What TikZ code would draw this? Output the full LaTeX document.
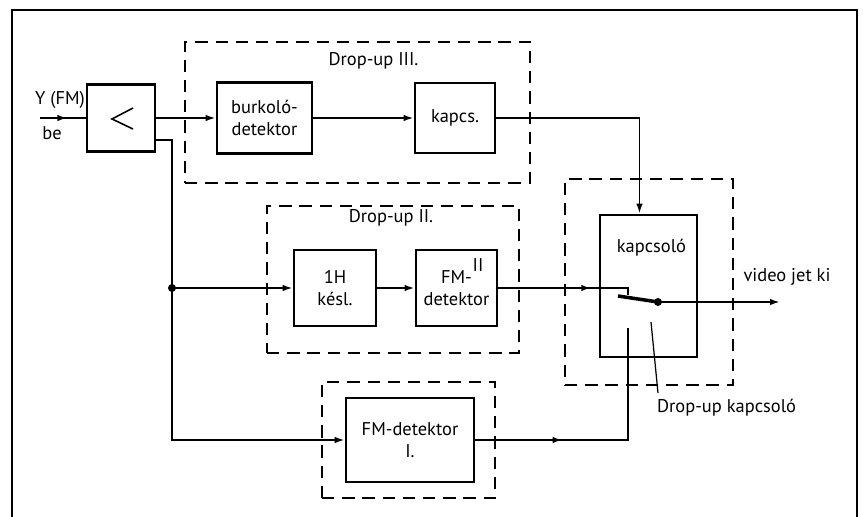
\documentclass[tikz,border=0pt]{standalone}
\usepackage{fontspec}
\setmainfont{PT Sans}
\usetikzlibrary{arrows.meta, positioning, calc, decorations.markings}

\tikzset{
  blk/.style={draw, line width=1.5pt, align=center, inner sep=0pt},
  grp/.style={draw, line width=1.1pt, dash pattern=on 7pt off 4.5pt},
  wire/.style={line width=1.1pt},
  tip/.style={-{Latex[length=0.2cm,width=0.13cm]}},
  midtip/.style={decoration={markings,
      mark=at position #1 with {\arrow{Latex[length=0.2cm,width=0.13cm]}}},
    postaction={decorate}},
  lbl/.style={inner sep=1pt},
}

\begin{document}
\begin{tikzpicture}[x=0.02cm, y=-0.02cm, font=\fontsize{10.5}{12.5}\selectfont]
  \useasboundingbox (0,0) rectangle (863,517);
  % frame, open at the bottom
  \draw[line width=0.85pt] (12,517) -- (12,10) -- (857,10) -- (857,517);

  % drop-up groups
  \node[grp, minimum width=6.9cm, minimum height=2.82cm] (d3) at (357.5,112.5) {};
  \node[grp, minimum width=3.36cm, minimum height=4.12cm] (dk) at (649,282) {};
  \node[grp, minimum width=5.04cm, minimum height=2.94cm] (d2) at (393,279.5) {};
  \node[grp, minimum width=3.46cm, minimum height=2.32cm] (d1) at (408.5,440) {};
  \node[lbl] (d3lbl) at ($(d3.north)+(16,20)$) {Drop-up III.};
  \node[lbl] (d2lbl) at ($(d2.north)+(-2,13)$) {Drop-up II.};

  % blocks
  \node[blk, minimum width=1.36cm, minimum height=1.34cm] (amp) at (121,118) {};
  \draw[line width=0.9pt] ($(amp)+(12,-10)$) -- ++(-21,11) -- ++(21,10);
  \node[blk, minimum width=1.9cm, minimum height=1.42cm] (burk) at (264.5,118) {burkoló-\\detektor};
  \node[blk, minimum width=1.6cm, minimum height=1.4cm] (kapcs) at (455,118) {kapcs.};
  \node[blk, minimum width=1.64cm, minimum height=1.52cm] (kesl) at (335,288) {1H\\késl.};
  \node[blk, minimum width=1.62cm, minimum height=1.52cm] (fm2) at (456.5,288) {FM-\\detektor};
  \node[lbl] (fm2no) at (478,265) {II};
  \node[blk, minimum width=2.56cm, minimum height=1.68cm] (fm1) at (410,440) {FM-detektor\\I.};
  \node[blk, minimum width=1.94cm, minimum height=2.84cm] (sw) at (648.5,286) {};
  \node[lbl] (swlbl) at ($(sw.north)+(3,34)$) {kapcsoló};

  % input
  \coordinate (yin) at (40,118);
  \draw[wire, midtip=0.6] (yin) -- (amp.west);
  \node[lbl] (ylbl) at (60,100) {Y (FM)};
  \node[lbl] (belbl) at (52,133) {be};

  % top branch
  \draw[wire, tip] (amp) -- (burk);
  \draw[wire, tip] (burk) -- (kapcs);
  \draw[wire, tip] (kapcs.east) -| ([xshift=-0.18cm]sw.north);

  % split to the lower branches
  \coordinate (ampout) at ($(amp.east)+(0,22)$);
  \coordinate (split) at (172,288);
  \draw[wire] (ampout) -| (split);
  \draw[wire, tip] (split) -- (kesl);
  \draw[wire, tip] (split) |- (fm1);
  \fill (split) circle (0.08cm);
  \draw[wire, tip] (kesl) -- (fm2);

  % switch
  \coordinate (cin) at (628,288);
  \coordinate (cbot) at (628,328);
  \coordinate (blade) at (618,296);
  \coordinate (pivot) at (658,302);
  \coordinate (vout) at (780,302);
  \draw[wire, midtip=0.68] (fm2) -- (cin) -- ++(0,7);
  \draw[wire, midtip=0.33] (fm1) -| (cbot);
  \draw[line width=2pt] (blade) -- (pivot);
  \fill (pivot) circle (0.08cm);
  \draw[wire, tip] (pivot) -- (vout);
  \node[lbl] (vlbl) at (787,277) {video jet ki};

  % leader
  \coordinate (lead) at (651,322);
  \coordinate (leadend) at (658,393);
  \draw[line width=0.7pt] (leadend) -- (lead);
  \node[lbl, anchor=west] (dklbl) at (655,408) {Drop-up kapcsoló};
\end{tikzpicture}
\end{document}
